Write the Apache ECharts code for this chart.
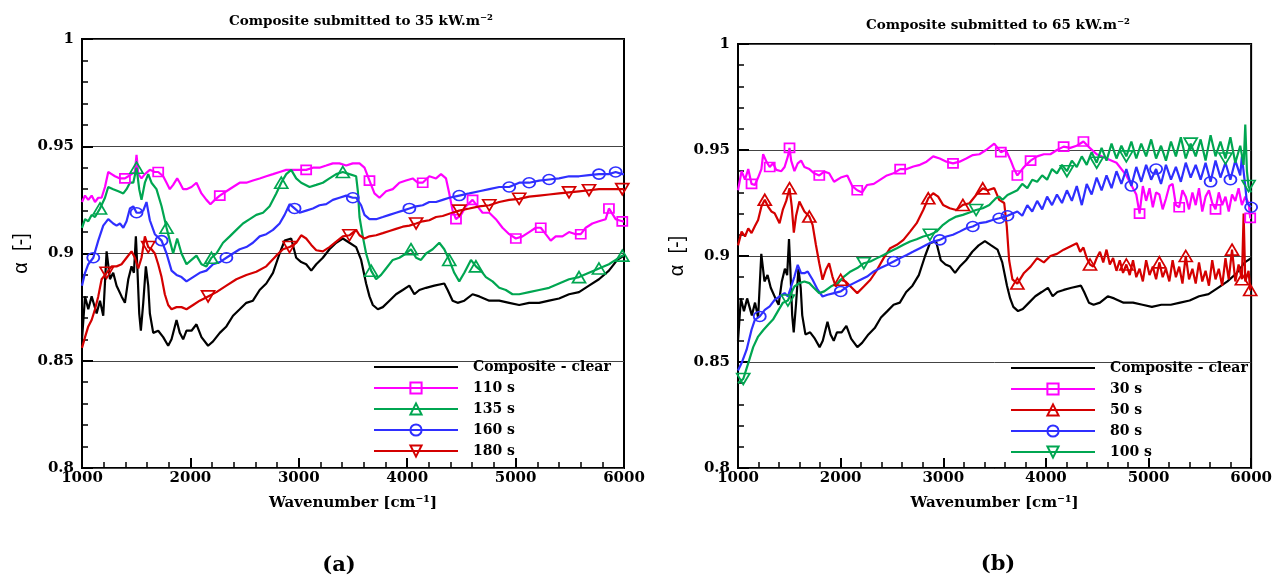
<!DOCTYPE html>
<html><head><meta charset="utf-8">
<script src="https://cdn.jsdelivr.net/npm/echarts@6/dist/echarts.min.js"></script>
<style>html,body{margin:0;padding:0;background:#fff}#c{width:1275px;height:580px}</style>
</head><body><div id="c"></div>
<script>
// ---------- axis ticks ----------
const xTicks = [1000, 2000, 3000, 4000, 5000, 6000];
const yTicks = [0.8, 0.85, 0.9, 0.95, 1];

// ---------- shared reference curve ----------
const clearCurve = [[1000,0.860],[1028,0.880],[1058,0.874],[1089,0.880],[1135,0.872],[1166,0.878],[1196,0.871],[1227,0.901],[1258,0.888],[1288,0.891],[1319,0.885],[1365,0.880],[1396,0.877],[1427,0.888],[1457,0.894],[1479,0.891],[1497,0.908],[1510,0.894],[1528,0.872],[1543,0.864],[1565,0.877],[1589,0.894],[1611,0.885],[1626,0.872],[1657,0.863],[1703,0.864],[1749,0.861],[1795,0.857],[1826,0.860],[1872,0.869],[1902,0.863],[1933,0.860],[1964,0.864],[2010,0.864],[2056,0.867],[2102,0.861],[2163,0.857],[2209,0.859],[2271,0.863],[2332,0.866],[2393,0.871],[2455,0.874],[2516,0.877],[2577,0.878],[2639,0.883],[2700,0.886],[2762,0.891],[2823,0.900],[2869,0.906],[2930,0.907],[2976,0.898],[3022,0.896],[3068,0.895],[3115,0.892],[3161,0.895],[3222,0.898],[3283,0.902],[3345,0.905],[3406,0.907],[3467,0.905],[3529,0.903],[3575,0.897],[3621,0.886],[3652,0.880],[3683,0.876],[3729,0.874],[3775,0.875],[3836,0.878],[3897,0.881],[3959,0.883],[4020,0.885],[4066,0.881],[4112,0.883],[4174,0.884],[4250,0.885],[4342,0.886],[4373,0.883],[4419,0.878],[4465,0.877],[4527,0.878],[4603,0.881],[4665,0.880],[4757,0.878],[4849,0.878],[4941,0.877],[5033,0.876],[5125,0.877],[5217,0.877],[5309,0.878],[5401,0.879],[5493,0.881],[5585,0.882],[5677,0.885],[5769,0.888],[5861,0.892],[5938,0.897],[6000,0.899]];

// ---------- panel (a): 35 kW.m-2 ----------
const s110 = [[1000,0.924],[1028,0.927],[1058,0.925],[1089,0.927],[1120,0.924],[1150,0.926],[1181,0.926],[1212,0.931],[1242,0.938],[1273,0.937],[1304,0.936],[1350,0.935],[1396,0.935],[1427,0.936],[1457,0.937],[1488,0.938],[1503,0.946],[1519,0.937],[1549,0.935],[1580,0.937],[1626,0.939],[1672,0.938],[1703,0.938],[1749,0.936],[1780,0.933],[1810,0.930],[1841,0.932],[1878,0.935],[1902,0.933],[1933,0.930],[1964,0.930],[2010,0.931],[2056,0.933],[2102,0.928],[2148,0.925],[2185,0.923],[2225,0.925],[2271,0.927],[2332,0.929],[2393,0.931],[2455,0.933],[2516,0.933],[2577,0.934],[2639,0.935],[2700,0.936],[2762,0.937],[2823,0.938],[2884,0.939],[2946,0.939],[3007,0.939],[3068,0.939],[3130,0.940],[3191,0.940],[3253,0.941],[3314,0.942],[3375,0.942],[3437,0.941],[3498,0.942],[3560,0.942],[3606,0.940],[3652,0.934],[3698,0.928],[3744,0.926],[3805,0.929],[3867,0.930],[3928,0.933],[3989,0.934],[4051,0.935],[4097,0.933],[4143,0.933],[4204,0.936],[4266,0.935],[4312,0.937],[4358,0.935],[4388,0.928],[4419,0.920],[4450,0.916],[4496,0.918],[4542,0.922],[4603,0.925],[4649,0.922],[4695,0.919],[4757,0.919],[4818,0.916],[4879,0.912],[4941,0.909],[5002,0.907],[5064,0.908],[5125,0.910],[5186,0.912],[5232,0.912],[5278,0.909],[5324,0.906],[5370,0.908],[5432,0.908],[5493,0.910],[5555,0.909],[5601,0.909],[5647,0.912],[5708,0.914],[5769,0.915],[5831,0.916],[5861,0.921],[5923,0.916],[5984,0.915],[6000,0.915]];
const s135 = [[1000,0.912],[1028,0.916],[1058,0.915],[1089,0.918],[1120,0.917],[1166,0.921],[1212,0.926],[1242,0.931],[1288,0.930],[1335,0.929],[1381,0.928],[1411,0.930],[1442,0.933],[1473,0.933],[1503,0.940],[1528,0.930],[1549,0.925],[1580,0.933],[1611,0.937],[1641,0.933],[1687,0.930],[1734,0.922],[1780,0.912],[1810,0.906],[1841,0.900],[1878,0.907],[1918,0.900],[1964,0.895],[2010,0.897],[2056,0.899],[2102,0.895],[2148,0.894],[2194,0.898],[2240,0.900],[2301,0.905],[2363,0.908],[2424,0.911],[2485,0.914],[2547,0.916],[2608,0.918],[2670,0.919],[2731,0.922],[2792,0.928],[2838,0.933],[2884,0.937],[2930,0.939],[2976,0.935],[3022,0.933],[3099,0.931],[3161,0.932],[3222,0.933],[3283,0.935],[3345,0.937],[3406,0.938],[3467,0.937],[3529,0.936],[3545,0.929],[3560,0.917],[3590,0.908],[3621,0.900],[3667,0.892],[3713,0.888],[3759,0.890],[3805,0.893],[3867,0.897],[3928,0.898],[3989,0.900],[4035,0.902],[4082,0.898],[4127,0.897],[4174,0.900],[4235,0.902],[4296,0.905],[4342,0.902],[4388,0.897],[4434,0.891],[4480,0.887],[4527,0.891],[4588,0.897],[4634,0.894],[4680,0.892],[4726,0.889],[4787,0.887],[4849,0.884],[4910,0.883],[4971,0.881],[5033,0.881],[5125,0.882],[5217,0.883],[5309,0.884],[5401,0.886],[5493,0.888],[5585,0.889],[5677,0.891],[5769,0.893],[5861,0.895],[5923,0.897],[5984,0.899],[6000,0.899]];
const s160 = [[1000,0.885],[1028,0.891],[1058,0.895],[1104,0.898],[1150,0.906],[1196,0.913],[1242,0.916],[1288,0.914],[1319,0.913],[1350,0.914],[1381,0.912],[1411,0.915],[1442,0.921],[1473,0.922],[1503,0.919],[1534,0.919],[1565,0.920],[1595,0.924],[1626,0.9155],[1672,0.909],[1734,0.906],[1780,0.900],[1826,0.892],[1872,0.890],[1918,0.889],[1964,0.887],[2025,0.889],[2086,0.891],[2148,0.892],[2209,0.895],[2271,0.896],[2332,0.898],[2393,0.900],[2455,0.902],[2516,0.903],[2577,0.905],[2639,0.908],[2700,0.909],[2762,0.911],[2823,0.914],[2869,0.918],[2915,0.923],[2961,0.921],[3007,0.919],[3068,0.920],[3130,0.921],[3191,0.9225],[3253,0.923],[3314,0.925],[3375,0.926],[3437,0.927],[3498,0.926],[3529,0.926],[3575,0.9225],[3606,0.918],[3652,0.916],[3713,0.916],[3775,0.917],[3836,0.918],[3897,0.919],[3959,0.920],[4020,0.921],[4082,0.922],[4143,0.9225],[4204,0.924],[4266,0.924],[4327,0.925],[4388,0.926],[4480,0.927],[4573,0.928],[4665,0.929],[4757,0.930],[4849,0.931],[4941,0.931],[5033,0.933],[5125,0.933],[5217,0.934],[5309,0.9345],[5401,0.935],[5493,0.936],[5585,0.936],[5677,0.9365],[5769,0.937],[5861,0.937],[5923,0.938],[5984,0.937],[6000,0.937]];
const s180 = [[1000,0.856],[1028,0.861],[1058,0.866],[1089,0.869],[1120,0.874],[1150,0.880],[1181,0.888],[1227,0.891],[1273,0.894],[1319,0.894],[1365,0.895],[1411,0.898],[1457,0.901],[1488,0.898],[1519,0.893],[1549,0.898],[1580,0.908],[1611,0.903],[1641,0.902],[1672,0.900],[1703,0.895],[1734,0.889],[1764,0.881],[1795,0.876],[1826,0.874],[1872,0.875],[1918,0.875],[1964,0.874],[2025,0.876],[2086,0.878],[2163,0.880],[2240,0.882],[2332,0.885],[2424,0.888],[2516,0.890],[2608,0.8915],[2700,0.894],[2792,0.899],[2854,0.902],[2915,0.903],[2976,0.905],[3022,0.9085],[3068,0.907],[3115,0.904],[3161,0.9015],[3222,0.901],[3283,0.903],[3345,0.9055],[3406,0.908],[3467,0.9085],[3529,0.911],[3560,0.9085],[3606,0.907],[3652,0.908],[3713,0.9085],[3775,0.9095],[3836,0.9105],[3897,0.9115],[3959,0.9125],[4020,0.913],[4082,0.914],[4143,0.915],[4204,0.9155],[4266,0.917],[4327,0.9175],[4388,0.9185],[4480,0.920],[4573,0.921],[4665,0.922],[4757,0.9225],[4849,0.924],[4941,0.925],[5033,0.9255],[5125,0.9265],[5217,0.927],[5309,0.9275],[5401,0.928],[5493,0.9285],[5585,0.929],[5677,0.9295],[5769,0.930],[5861,0.930],[5923,0.930],[5984,0.930],[6000,0.930]];

// marker wavenumbers, panel (a)
const m110 = [1396,1703,2271,3053,3652,4127,4450,4603,5002,5217,5585,5861,5984];
const m135 = [1166,1503,1780,2194,2838,3406,3652,4035,4388,4649,5555,5769,5984];
const m160 = [1104,1503,1734,2332,2976,3498,4020,4480,4941,5125,5309,5769,5923];
const m180 = [1227,1611,2163,2915,3467,4082,4480,4757,5033,5493,5677,5984];

// ---------- panel (b): 65 kW.m-2 ----------
const s30 = [[1000,0.931],[1035,0.940],[1068,0.936],[1100,0.941],[1132,0.934],[1164,0.9335],[1196,0.937],[1228,0.941],[1245,0.948],[1277,0.9445],[1309,0.942],[1341,0.9437],[1373,0.9406],[1422,0.940],[1454,0.942],[1486,0.947],[1502,0.951],[1518,0.945],[1550,0.940],[1582,0.9437],[1615,0.945],[1647,0.942],[1695,0.941],[1743,0.939],[1792,0.938],[1840,0.9398],[1888,0.939],[1936,0.935],[2001,0.937],[2065,0.938],[2113,0.933],[2162,0.931],[2210,0.930],[2258,0.9335],[2323,0.934],[2387,0.936],[2451,0.938],[2516,0.939],[2580,0.941],[2644,0.941],[2709,0.9422],[2773,0.943],[2837,0.9445],[2902,0.947],[2966,0.946],[3031,0.9445],[3095,0.9437],[3159,0.9445],[3224,0.946],[3288,0.9476],[3352,0.948],[3417,0.950],[3497,0.953],[3561,0.949],[3610,0.950],[3658,0.945],[3690,0.941],[3722,0.938],[3787,0.942],[3851,0.945],[3915,0.947],[3980,0.948],[4044,0.948],[4108,0.950],[4173,0.9516],[4237,0.951],[4301,0.952],[4366,0.954],[4414,0.9516],[4495,0.948],[4591,0.946],[4688,0.944],[4784,0.938],[4849,0.932],[4881,0.929],[4913,0.920],[4945,0.933],[4977,0.926],[5010,0.932],[5042,0.923],[5074,0.930],[5106,0.929],[5138,0.922],[5170,0.927],[5203,0.933],[5235,0.934],[5267,0.924],[5299,0.923],[5331,0.931],[5363,0.928],[5395,0.922],[5428,0.930],[5460,0.924],[5492,0.932],[5524,0.921],[5556,0.928],[5589,0.931],[5621,0.925],[5653,0.922],[5685,0.930],[5718,0.924],[5750,0.928],[5782,0.921],[5814,0.929],[5846,0.926],[5878,0.932],[5910,0.924],[5943,0.928],[5975,0.925],[5991,0.918],[6000,0.918]];
const s50 = [[1000,0.905],[1035,0.9115],[1068,0.9092],[1100,0.913],[1132,0.9108],[1164,0.914],[1196,0.917],[1228,0.9233],[1261,0.9265],[1293,0.9233],[1325,0.921],[1357,0.9202],[1405,0.9155],[1438,0.922],[1470,0.926],[1502,0.932],[1524,0.9233],[1544,0.911],[1566,0.919],[1598,0.9257],[1647,0.921],[1695,0.9186],[1727,0.9147],[1759,0.9053],[1792,0.8966],[1824,0.8888],[1856,0.8935],[1888,0.8966],[1920,0.8903],[1952,0.8856],[2001,0.8888],[2049,0.888],[2097,0.8856],[2162,0.8825],[2226,0.8856],[2290,0.8888],[2355,0.8935],[2419,0.899],[2483,0.9037],[2548,0.9053],[2612,0.9076],[2677,0.9115],[2741,0.9155],[2805,0.9217],[2854,0.9272],[2902,0.9296],[2950,0.928],[2998,0.9241],[3063,0.9225],[3127,0.9217],[3191,0.9241],[3256,0.9249],[3320,0.9288],[3385,0.9319],[3433,0.931],[3497,0.932],[3545,0.9265],[3594,0.925],[3619,0.914],[3642,0.898],[3674,0.889],[3722,0.887],[3787,0.892],[3851,0.895],[3915,0.899],[3980,0.897],[4044,0.900],[4108,0.901],[4173,0.903],[4237,0.9045],[4301,0.906],[4334,0.902],[4366,0.904],[4398,0.899],[4430,0.896],[4462,0.895],[4495,0.899],[4527,0.902],[4559,0.897],[4591,0.903],[4623,0.896],[4655,0.899],[4688,0.893],[4720,0.898],[4752,0.892],[4784,0.896],[4817,0.891],[4849,0.898],[4881,0.890],[4913,0.894],[4945,0.888],[4977,0.898],[5010,0.891],[5042,0.895],[5074,0.889],[5106,0.897],[5138,0.890],[5170,0.894],[5203,0.888],[5235,0.898],[5267,0.890],[5299,0.895],[5331,0.887],[5363,0.900],[5395,0.889],[5428,0.894],[5460,0.887],[5492,0.897],[5524,0.888],[5556,0.893],[5589,0.886],[5621,0.898],[5653,0.889],[5685,0.894],[5718,0.886],[5750,0.899],[5782,0.889],[5814,0.903],[5846,0.888],[5878,0.896],[5910,0.889],[5927,0.920],[5943,0.888],[5975,0.893],[5991,0.884],[6000,0.884]];
const s80 = [[1000,0.846],[1035,0.8495],[1084,0.8558],[1132,0.8652],[1164,0.8699],[1212,0.8715],[1261,0.8746],[1309,0.8762],[1357,0.8793],[1405,0.8809],[1454,0.8825],[1486,0.8809],[1518,0.8856],[1550,0.8903],[1582,0.8958],[1615,0.8919],[1647,0.8919],[1679,0.8927],[1727,0.8888],[1776,0.8841],[1824,0.8809],[1872,0.8817],[1936,0.8825],[2001,0.8833],[2065,0.8856],[2129,0.8872],[2194,0.8888],[2258,0.8903],[2323,0.8927],[2387,0.8943],[2451,0.8958],[2516,0.8974],[2580,0.8990],[2644,0.9005],[2709,0.9021],[2773,0.9037],[2837,0.9053],[2902,0.9068],[2966,0.9076],[3031,0.9092],[3095,0.910],[3159,0.9115],[3224,0.9131],[3288,0.9139],[3352,0.9155],[3417,0.916],[3481,0.917],[3545,0.9178],[3626,0.919],[3722,0.921],[3770,0.919],[3819,0.924],[3867,0.921],[3915,0.926],[3964,0.922],[4012,0.928],[4060,0.924],[4108,0.929],[4157,0.925],[4205,0.931],[4253,0.926],[4301,0.933],[4350,0.924],[4398,0.934],[4446,0.929],[4495,0.937],[4543,0.931],[4591,0.938],[4640,0.932],[4688,0.940],[4736,0.934],[4784,0.941],[4833,0.933],[4881,0.942],[4929,0.935],[4977,0.943],[5026,0.936],[5074,0.941],[5122,0.934],[5170,0.943],[5219,0.936],[5267,0.942],[5315,0.935],[5363,0.944],[5411,0.937],[5460,0.943],[5508,0.936],[5556,0.944],[5605,0.935],[5653,0.945],[5701,0.937],[5750,0.944],[5798,0.936],[5846,0.945],[5894,0.938],[5910,0.947],[5943,0.933],[5959,0.925],[6000,0.923]];
const s100 = [[1000,0.840],[1051,0.842],[1100,0.8495],[1148,0.857],[1196,0.862],[1245,0.865],[1293,0.8676],[1341,0.870],[1389,0.874],[1438,0.878],[1486,0.879],[1518,0.8825],[1550,0.8856],[1598,0.8872],[1647,0.888],[1695,0.8872],[1743,0.8848],[1792,0.8825],[1840,0.8833],[1904,0.8856],[1969,0.8872],[2033,0.8903],[2097,0.8927],[2162,0.8943],[2226,0.8966],[2290,0.8974],[2355,0.899],[2419,0.9005],[2483,0.9021],[2548,0.9037],[2612,0.9053],[2677,0.9068],[2741,0.9079],[2805,0.9092],[2870,0.910],[2934,0.9115],[2998,0.9147],[3063,0.917],[3127,0.9186],[3191,0.9194],[3256,0.9205],[3320,0.9217],[3385,0.9225],[3449,0.9241],[3513,0.9272],[3545,0.928],[3578,0.9265],[3626,0.9288],[3722,0.931],[3770,0.934],[3819,0.932],[3867,0.936],[3915,0.935],[3964,0.938],[4012,0.936],[4060,0.941],[4108,0.939],[4157,0.943],[4205,0.940],[4253,0.945],[4301,0.942],[4350,0.947],[4398,0.943],[4446,0.949],[4495,0.944],[4543,0.951],[4591,0.945],[4640,0.953],[4688,0.946],[4736,0.952],[4784,0.947],[4833,0.954],[4881,0.946],[4929,0.953],[4977,0.947],[5026,0.955],[5074,0.946],[5122,0.952],[5170,0.945],[5219,0.954],[5267,0.947],[5315,0.956],[5363,0.946],[5411,0.953],[5460,0.947],[5508,0.955],[5556,0.945],[5605,0.957],[5653,0.947],[5701,0.954],[5750,0.946],[5798,0.956],[5846,0.944],[5894,0.952],[5927,0.943],[5943,0.962],[5959,0.940],[5975,0.933],[6000,0.930]];

// marker wavenumbers, panel (b)
const m30 = [1132,1309,1502,1776,2178,2580,3127,3561,3722,3851,4205,4382,4913,5299,5653,5991];
const m50 = [1261,1502,1711,2001,2870,3191,3385,3722,4430,4784,5106,5363,5814,5910,5991];
const m80 = [1196,1969,2548,2966,3288,3529,3658,4849,5074,5621,5814,6000];
const m100 = [1035,1470,2210,2886,3336,4205,4495,4784,5395,5750,5975];

// ---------- build ----------
function withMarkers(pts, marks) {
  const on = new Set(marks.map(m => {
    let best = 0, bd = Infinity;
    pts.forEach((p, i) => { const d = Math.abs(p[0] - m); if (d < bd) { bd = d; best = i; } });
    return best;
  }));
  return pts.map((p, i) => on.has(i) ? { value: p } : { value: p, symbol: 'none' });
}
const MAG = '#ff00ff', GRN = '#00a651', BLU = '#2f2fff', RED = '#d40000';
function mkSeries(name, pts, marks, color, symbol, rot, size, g) {
  return {
    type: 'line', name, xAxisIndex: g, yAxisIndex: g,
    data: marks ? withMarkers(pts, marks) : pts,
    color, symbol: marks ? symbol : 'none', symbolSize: size, symbolRotate: rot,
    showSymbol: !!marks, showAllSymbol: true,
    lineStyle: { color, width: 2.2 },
    itemStyle: { color: 'transparent', borderColor: color, borderWidth: 1.7 },
    emphasis: { disabled: true }, animation: false
  };
}
const SQ = [10, 9], TR = [13, 11], CI = [12, 10];
const series = [
  mkSeries('Composite - clear', clearCurve, null, '#000', 'none', 0, 0, 0),
  mkSeries('110 s', s110, m110, MAG, 'rect', 0, SQ, 0),
  mkSeries('135 s', s135, m135, GRN, 'triangle', 0, TR, 0),
  mkSeries('160 s', s160, m160, BLU, 'circle', 0, CI, 0),
  mkSeries('180 s', s180, m180, RED, 'triangle', 180, TR, 0),
  mkSeries('Composite - clear', clearCurve, null, '#000', 'none', 0, 0, 1),
  mkSeries('30 s', s30, m30, MAG, 'rect', 0, SQ, 1),
  mkSeries('50 s', s50, m50, RED, 'triangle', 0, TR, 1),
  mkSeries('80 s', s80, m80, BLU, 'circle', 0, CI, 1),
  mkSeries('100 s', s100, m100, GRN, 'triangle', 180, TR, 1)
];

const SERIF = '"DejaVu Serif", "Liberation Serif", serif';
const grids = [
  { left: 82, top: 39, width: 542, height: 429 },
  { left: 738, top: 44, width: 517, height: 424 }
];
const xAxis = grids.map((g, i) => ({
  gridIndex: i, type: 'value', min: xTicks[0], max: xTicks[xTicks.length - 1], interval: 1000,
  name: 'Wavenumber [cm⁻¹]', nameLocation: 'middle', nameGap: 28,
  nameTextStyle: { fontFamily: SERIF, fontWeight: 'bold', fontSize: 15, color: '#000' },
  axisLine: { show: false },
  axisTick: { show: true, inside: true, length: 10, lineStyle: { color: '#000', width: 2 } },
  minorTick: { show: true, splitNumber: 5, length: 6, lineStyle: { color: '#000', width: 1.5 } },
  axisLabel: { fontFamily: SERIF, fontWeight: 'bold', fontSize: 15, color: '#000', margin: 3,
    formatter: v => String(v) },
  splitLine: { show: false }
}));
const yAxis = grids.map((g, i) => ({
  gridIndex: i, type: 'value', min: yTicks[0], max: yTicks[yTicks.length - 1], interval: 0.05,
  name: 'α  [-]', nameLocation: 'middle', nameGap: 51, nameRotate: 90,
  nameTextStyle: { fontFamily: '"Liberation Sans", Arial, sans-serif', fontSize: 20, color: '#000' },
  axisLine: { show: false },
  axisTick: { show: true, inside: true, length: 11, lineStyle: { color: '#000', width: 2 } },
  minorTick: { show: true, splitNumber: 5, length: 6, lineStyle: { color: '#000', width: 1.5 } },
  axisLabel: { fontFamily: SERIF, fontWeight: 'bold', fontSize: 15, color: '#000', margin: 8,
    formatter: v => String(+v.toFixed(2)) },
  splitLine: { show: true, lineStyle: { color: '#444', width: 1 } }
}));
const legendText = { fontFamily: SERIF, fontWeight: 'bold', fontSize: 14, color: '#000', padding: [0, 0, 0, 10] };
const clearItem = { name: 'Composite - clear', itemStyle: { opacity: 0 } };
const legends = [
  { data: [clearItem, '110 s', '135 s', '160 s', '180 s'], left: 373, top: 360 },
  { data: [clearItem, '30 s', '50 s', '80 s', '100 s'], left: 1010, top: 361 }
].map(l => Object.assign(l, {
  orient: 'vertical', itemWidth: 84, itemHeight: 14, itemGap: 7, selectedMode: false,
  textStyle: legendText, padding: 0
}));
function label(x, y, text, font) {
  return { type: 'text', x, y, silent: true,
    style: { text, font, fill: '#000', align: 'center', verticalAlign: 'middle', textAlign: 'center', textVerticalAlign: 'middle' } };
}

const chart = echarts.init(document.getElementById('c'), null, { renderer: 'canvas' });
chart.setOption({
  backgroundColor: '#fff',
  animation: false,
  grid: grids.map(g => Object.assign({ show: true, borderColor: '#000', borderWidth: 2, backgroundColor: 'transparent', containLabel: false }, g)),
  xAxis, yAxis, legend: legends, series,
  graphic: [
    label(361, 21, 'Composite submitted to 35 kW.m⁻²', 'bold 13.5px "DejaVu Serif"'),
    label(998, 25, 'Composite submitted to 65 kW.m⁻²', 'bold 13.5px "DejaVu Serif"'),
    label(339, 566, '(a)', 'bold 21px "DejaVu Serif"'),
    label(998, 565, '(b)', 'bold 21px "DejaVu Serif"')
  ]
});
</script>
</body></html>
